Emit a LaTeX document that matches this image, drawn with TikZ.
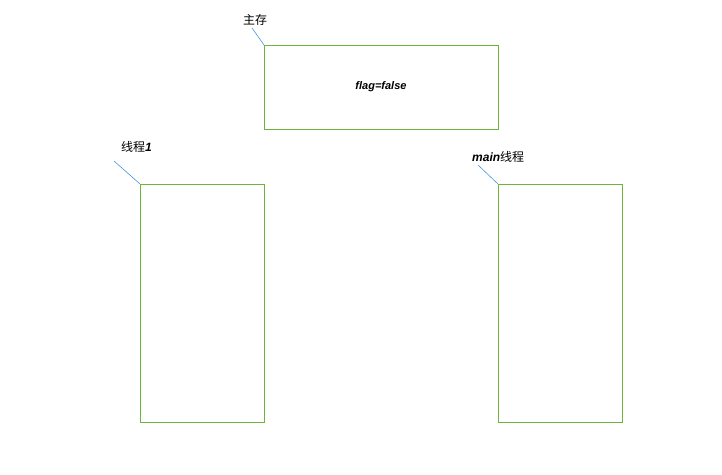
\documentclass[tikz,border=0pt]{standalone}
\usepackage{fontspec}
\setmainfont{Noto Sans CJK SC}
\newfontfamily\latfont{Liberation Sans}
\usepackage{tikz}
\usetikzlibrary{positioning}
\definecolor{boxgreen}{RGB}{110,180,60}
\definecolor{leadblue}{RGB}{70,150,220}
\tikzset{
	membox/.style={draw=boxgreen, line width=0.8pt},
	leader/.style={draw=leadblue, line width=0.6pt},
	tag/.style={font=\fontsize{12}{14}\selectfont, inner sep=0pt}
}
\begin{document}
\begin{tikzpicture}[x=1pt, y=-1pt]
	\useasboundingbox (0,0) rectangle (722,474);
	\draw[membox] (264,45) rectangle (498,129);
	\node[font=\latfont\bfseries\itshape\fontsize{11}{13}\selectfont] (flag) at (381,87) {flag=false};
	\draw[membox] (140,184) rectangle (264,422);
	\draw[membox] (498,184) rectangle (622,422);
	\coordinate (MemCorner) at (264,45);
	\coordinate (T1Corner) at (140,184);
	\coordinate (MainCorner) at (498,184);
	\node[tag, anchor=west] (Mem) at (243,20) {主存};
	\node[tag, anchor=west] (T1) at (121,147) {线程{\latfont\bfseries\itshape 1}};
	\node[tag, anchor=west] (MainT) at (472,157) {{\latfont\bfseries\itshape main}线程};
	\draw[leader] (MemCorner) -- (252,28);
	\draw[leader] (T1Corner) -- (114,161);
	\draw[leader] (MainCorner) -- (478,165);
\end{tikzpicture}
\end{document}
